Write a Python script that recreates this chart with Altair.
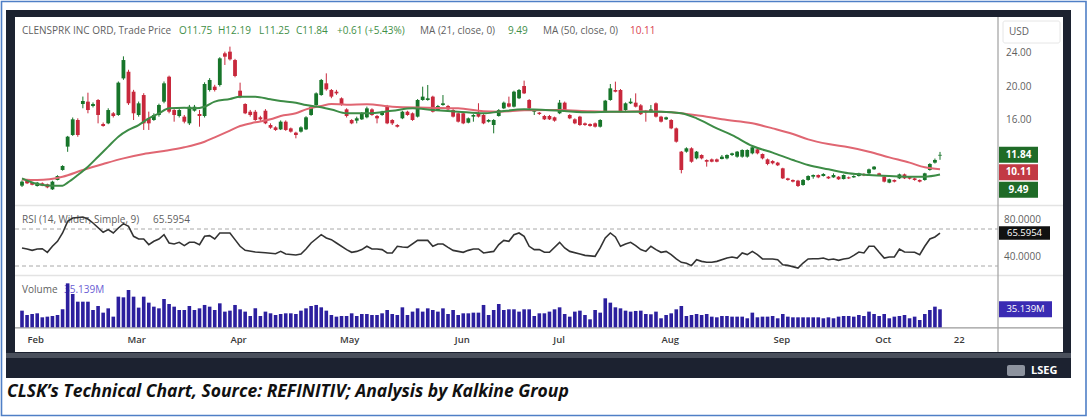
import altair as alt
import pandas as pd

# ---------------- data: CleanSpark (CLSK) daily sessions ----------------
open_ = [8.16, 8.72, 8.52, 8.12, 8.44, 8.32, 7.72, 8.84, 10.03, 12.82,
         14.21, 16.00, 17.91, 18.19, 17.67, 18.39, 15.52, 15.60, 16.80, 16.60,
         20.97, 21.77, 19.38, 16.60, 18.98, 16.20, 16.00, 16.60, 18.19, 21.17,
         17.19, 16.48, 16.40, 15.60, 17.11, 16.72, 16.48, 19.58, 19.98, 20.18,
         23.96, 24.16, 23.16, 19.50, 17.91, 16.99, 16.99, 16.32, 17.11, 15.40,
         15.12, 14.88, 15.80, 15.00, 14.49, 14.61, 14.88, 16.60, 17.79, 18.98,
         20.38, 19.58, 19.38, 18.59, 17.27, 16.00, 15.92, 16.08, 16.32, 17.27,
         16.48, 16.60, 17.59, 16.00, 15.40, 16.20, 16.99, 16.80, 16.40, 18.39,
         18.39, 18.79, 17.19, 17.79, 17.67, 17.19, 16.80, 16.80, 15.68, 16.40,
         16.80, 16.60, 15.80, 15.40, 16.48, 17.39, 17.99, 17.59, 18.59, 20.06,
         18.39, 16.99, 16.88, 16.48, 16.48, 16.32, 16.80, 18.07, 16.60, 16.08,
         16.40, 15.60, 15.52, 15.60, 15.20, 16.99, 18.39, 19.58, 19.58, 17.19,
         17.99, 18.07, 17.75, 17.10, 16.99, 17.99, 16.40, 16.08, 16.00, 15.00,
         12.22, 12.22, 12.62, 11.42, 11.82, 11.22, 11.30, 11.30, 11.34, 11.42,
         11.82, 11.62, 11.62, 11.62, 12.02, 12.50, 11.94, 11.30, 11.10, 10.91,
         10.23, 9.03, 8.84, 8.76, 8.24, 8.84, 9.23, 9.43, 9.31, 9.23,
         9.15, 9.23, 8.95, 9.15, 9.15, 9.31, 9.55, 9.63, 10.11, 9.63,
         9.23, 8.52, 8.84, 9.03, 9.51, 9.23, 9.03, 8.84, 8.84, 10.03,
         10.91, 11.75]
high_ = [8.80, 8.85, 8.60, 8.60, 8.55, 8.40, 8.75, 9.40, 10.60, 14.10,
         16.30, 16.20, 18.80, 19.26, 18.10, 18.50, 15.70, 17.40, 16.95, 20.60,
         23.60, 22.00, 19.60, 18.20, 19.20, 17.00, 16.80, 17.95, 20.60, 21.30,
         17.30, 17.40, 16.60, 17.80, 17.80, 17.20, 20.50, 21.00, 20.20, 23.50,
         24.16, 24.76, 23.30, 20.46, 18.00, 17.20, 17.20, 16.50, 17.30, 15.60,
         15.25, 15.95, 15.95, 15.10, 14.60, 15.25, 16.45, 17.70, 19.30, 20.90,
         21.57, 19.70, 19.60, 18.70, 17.40, 16.10, 16.40, 16.95, 17.60, 17.40,
         16.60, 17.10, 17.80, 16.10, 15.50, 17.10, 17.10, 16.90, 18.50, 19.98,
         20.18, 18.90, 17.80, 18.98, 17.80, 17.30, 16.90, 16.90, 16.30, 16.70,
         18.00, 16.70, 16.10, 16.10, 17.30, 18.20, 18.79, 19.50, 19.70, 20.70,
         18.50, 17.30, 16.95, 16.60, 16.60, 16.40, 18.39, 18.20, 16.70, 16.20,
         16.50, 15.70, 15.60, 15.70, 16.10, 18.40, 20.30, 20.58, 19.70, 18.10,
         18.59, 19.18, 17.90, 17.20, 17.79, 18.10, 16.50, 16.40, 16.10, 15.10,
         12.30, 12.74, 12.74, 12.30, 11.90, 11.30, 11.40, 11.40, 11.82, 11.90,
         12.10, 12.30, 12.50, 12.50, 12.90, 12.60, 12.00, 11.40, 11.20, 11.00,
         10.30, 9.10, 8.90, 8.85, 8.95, 9.40, 9.50, 9.50, 9.65, 9.30,
         9.63, 9.30, 9.50, 9.25, 9.40, 9.70, 9.65, 10.20, 10.50, 9.70,
         9.30, 9.00, 8.90, 9.60, 9.60, 9.30, 9.10, 8.90, 9.70, 10.85,
         11.40, 12.19]
low_ = [8.00, 8.35, 8.20, 8.05, 8.10, 7.85, 7.65, 8.80, 9.95, 12.20,
        14.10, 14.00, 17.40, 16.80, 17.50, 15.60, 15.20, 15.50, 16.30, 16.50,
        20.80, 17.80, 16.00, 16.40, 14.81, 14.81, 15.90, 16.40, 18.00, 16.80,
        15.80, 16.30, 15.60, 15.40, 17.00, 15.20, 16.30, 19.40, 19.40, 20.00,
        22.57, 23.10, 21.10, 18.60, 16.70, 16.40, 15.90, 15.90, 15.50, 14.95,
        14.70, 14.80, 14.70, 14.50, 13.81, 14.50, 14.80, 16.50, 17.70, 18.90,
        19.50, 18.60, 19.00, 17.70, 16.30, 15.50, 15.60, 16.00, 16.20, 16.50,
        15.60, 16.50, 15.50, 15.40, 15.10, 16.10, 16.50, 15.90, 16.30, 18.30,
        18.30, 16.90, 17.10, 17.70, 17.20, 16.30, 15.70, 15.50, 15.60, 15.80,
        16.30, 15.50, 15.70, 14.41, 16.40, 17.30, 17.50, 17.50, 18.50, 19.10,
        17.30, 16.60, 16.60, 16.00, 16.00, 15.80, 16.70, 17.10, 16.10, 15.50,
        15.30, 15.30, 15.20, 15.10, 15.10, 16.90, 18.30, 19.30, 16.90, 17.10,
        17.90, 17.50, 16.60, 15.80, 16.90, 16.30, 15.70, 16.00, 14.90, 13.30,
        9.63, 12.10, 10.90, 11.30, 11.30, 10.43, 10.95, 10.95, 11.30, 11.30,
        11.70, 11.50, 11.50, 11.50, 11.90, 11.90, 11.30, 10.60, 10.70, 10.50,
        8.95, 8.75, 8.55, 8.00, 8.15, 8.75, 8.99, 9.05, 9.25, 8.95,
        9.10, 8.85, 8.90, 8.95, 9.10, 9.25, 9.30, 9.55, 10.05, 9.35,
        8.55, 8.45, 8.55, 8.95, 8.95, 8.90, 8.75, 8.55, 8.75, 9.95,
        10.80, 11.25]
close_ = [8.64, 8.44, 8.28, 8.52, 8.16, 7.96, 8.64, 9.31, 10.51, 14.01,
          16.08, 14.21, 18.27, 17.19, 17.91, 16.60, 15.28, 17.19, 16.48, 20.46,
          23.16, 17.99, 16.80, 17.99, 15.60, 15.60, 16.60, 17.79, 20.38, 16.99,
          16.60, 17.19, 15.80, 17.59, 17.59, 16.48, 20.30, 20.78, 19.58, 23.36,
          23.56, 23.24, 21.25, 18.71, 16.80, 16.60, 16.00, 16.08, 15.60, 15.08,
          14.81, 15.80, 14.81, 14.61, 14.21, 15.12, 16.32, 17.59, 19.18, 20.78,
          19.66, 18.79, 19.18, 17.79, 16.48, 15.60, 16.20, 16.80, 17.39, 16.60,
          16.20, 16.99, 15.60, 15.60, 15.20, 16.99, 16.60, 16.00, 18.39, 18.79,
          18.59, 16.99, 17.67, 17.99, 17.27, 16.40, 15.80, 15.60, 16.20, 16.60,
          16.40, 15.60, 16.00, 16.00, 17.19, 18.07, 17.59, 19.38, 19.58, 19.18,
          17.39, 17.19, 16.72, 16.08, 16.08, 15.92, 18.07, 17.19, 16.20, 15.60,
          15.40, 15.40, 15.28, 15.20, 16.00, 18.31, 19.78, 19.38, 16.99, 17.99,
          18.19, 17.59, 16.70, 16.90, 17.27, 16.40, 15.80, 16.32, 15.00, 13.41,
          10.03, 12.62, 11.02, 12.22, 11.42, 11.02, 11.02, 11.02, 11.62, 11.82,
          12.02, 12.22, 12.42, 12.42, 12.74, 12.02, 11.42, 10.75, 10.83, 10.59,
          9.03, 8.84, 8.64, 8.12, 8.84, 9.31, 9.43, 9.15, 9.55, 9.03,
          9.43, 8.92, 9.43, 9.03, 9.31, 9.63, 9.39, 10.11, 10.43, 9.43,
          8.64, 8.92, 8.64, 9.51, 9.03, 8.99, 8.84, 8.64, 9.63, 10.75,
          11.23, 11.84]

# daily volume, millions of shares
volume_m = [32.5, 24, 26, 27.3, 19.5, 20.8, 22.1, 24, 35.1, 85.8,
            65, 50, 50, 50, 33.8, 41.6, 28.6, 37, 20.8, 59.8,
            58.5, 72.8, 59.8, 38.4, 59.8, 48.1, 40.3, 37, 55.3, 45.5,
            40.3, 33.8, 33.8, 41.6, 33.8, 37, 43.6, 40.3, 33.8, 46.8,
            30.6, 32.5, 43.6, 35.1, 30.6, 22.1, 37, 22.1, 30.6, 27.3,
            24, 26, 27.3, 27.3, 26, 32.5, 37, 41.6, 43.6, 39,
            32.5, 24, 20.8, 22.1, 22.1, 27.3, 22.1, 26, 26, 24,
            24, 27.3, 33.8, 26, 24, 39, 24, 30.6, 37, 30.6,
            37, 33.8, 30.6, 37, 26, 33.8, 24, 27.3, 27.3, 28.6,
            28.6, 43.6, 24, 33.8, 45.5, 33.8, 35.1, 35.1, 30.6, 35.1,
            35.1, 22.1, 27.3, 27.3, 30.6, 35.1, 39, 26, 20.8, 30.6,
            32.5, 24, 15.6, 33.8, 28.6, 56.6, 48.1, 39, 37, 32.5,
            30.6, 31.9, 32.5, 26, 25.4, 30.6, 17.6, 24, 27.3, 35.1,
            41.6, 22.1, 24, 26, 24, 26, 20.8, 19.5, 22.1, 22.1,
            20.8, 20.8, 20.8, 17.6, 28.6, 19.5, 20.8, 20.8, 22.1, 17.6,
            26, 20.8, 19.5, 19.5, 19.5, 19.5, 19.5, 19.5, 17.6, 19.5,
            17.6, 20.8, 22.1, 22.1, 20.8, 24, 22.1, 30.6, 26, 22.1,
            26, 17.6, 20.8, 22.1, 24, 17.6, 20.8, 14.3, 26, 33.8,
            40.3, 35.139]

# moving averages (session index, value)
ma21_idx = [0, 3, 6, 8, 9, 11, 13, 15, 17, 19, 21, 23, 25, 27, 29, 32, 34, 36,
            38, 41, 43, 46, 49, 51, 54, 56, 59, 61, 64, 68, 73, 77, 81, 86, 91,
            94, 99, 106, 112, 116, 122, 126, 130, 133, 137, 140, 144, 148, 152,
            155, 159, 163, 167, 171, 175, 178, 181]
ma21_val = [9.03, 8.36, 8.16, 8.16, 8.52, 9.43, 10.43, 11.62, 12.82, 14.01,
            14.81, 15.40, 16.20, 16.80, 17.39, 17.47, 17.39, 17.59, 18.19,
            18.51, 18.79, 18.79, 18.47, 18.27, 18.07, 17.79, 17.51, 17.25,
            16.80, 16.80, 17.10, 17.39, 17.19, 16.99, 16.80, 16.99, 17.27,
            17.10, 16.92, 16.99, 17.00, 16.99, 16.80, 16.20, 15.00, 14.20,
            12.90, 12.10, 11.22, 10.63, 10.11, 9.63, 9.43, 9.31, 9.23, 9.23,
            9.49]
ma50_idx = [0, 3, 8, 12, 16, 20, 24, 28, 32, 36, 38, 41, 43, 46, 49, 51, 54,
            56, 59, 61, 64, 68, 73, 80, 86, 91, 94, 99, 106, 112, 118, 122,
            128, 131, 135, 138, 144, 148, 152, 155, 159, 163, 167, 171, 175,
            178, 181]
ma50_val = [8.91, 8.84, 9.23, 10.03, 10.75, 11.42, 11.94, 12.30, 12.74,
            13.41, 13.93, 14.73, 15.28, 15.72, 16.08, 16.48, 16.80, 17.27,
            17.67, 17.91, 17.83, 17.87, 17.59, 17.47, 17.39, 17.05, 17.00,
            17.15, 17.19, 17.05, 16.99, 17.05, 16.92, 16.72, 16.40, 16.08,
            15.60, 15.00, 14.33, 13.69, 13.13, 12.74, 12.22, 11.54, 10.91,
            10.35, 10.11]

# RSI (14, Wilder) readings
rsi_idx = [0, 1, 2, 3, 4, 5, 6, 7, 8, 9, 10, 12, 13, 14, 16, 17, 18, 19, 20,
           21, 22, 23, 24, 25, 26, 27, 28, 29, 30, 31, 32, 33, 34, 35, 36, 37,
           38, 39, 40, 41, 42, 43, 44, 46, 48, 50, 51, 52, 54, 55, 56, 57, 59,
           60, 61, 62, 64, 65, 66, 67, 68, 69, 70, 71, 72, 73, 74, 75, 76, 78,
           79, 80, 81, 82, 83, 84, 85, 87, 88, 89, 90, 91, 93, 94, 95, 96, 97,
           98, 99, 100, 101, 102, 103, 104, 106, 107, 108, 110, 111, 113, 114,
           115, 116, 117, 118, 119, 120, 121, 122, 123, 124, 125, 126, 127,
           128, 129, 130, 131, 132, 133, 134, 135, 136, 137, 139, 140, 141,
           142, 143, 144, 145, 146, 148, 149, 150, 151, 153, 154, 155, 156,
           157, 158, 159, 160, 161, 162, 163, 164, 165, 166, 167, 168, 169,
           170, 171, 172, 173, 174, 176, 177, 178, 179, 180, 181]
rsi_val = [49.5, 48.4, 46.9, 48.4, 48.7, 44.8, 51.3, 56.7, 65.7, 78.3, 81.9,
           83.0, 80.8, 76.5, 66.4, 69.3, 65.7, 71.1, 75.8, 72.9, 62.1, 59.2,
           59.2, 53.1, 56.7, 59.2, 63.9, 54.9, 53.8, 55.6, 52.0, 55.6, 55.6,
           53.1, 62.1, 62.8, 59.2, 65.7, 65.7, 65.7, 58.5, 51.3, 46.9, 45.1,
           44.4, 43.3, 45.8, 43.0, 41.9, 43.0, 48.4, 54.9, 63.9, 60.3, 58.5,
           54.9, 47.7, 44.8, 45.8, 47.7, 51.3, 48.4, 48.4, 47.7, 44.1, 44.1,
           51.3, 50.5, 50.2, 57.7, 57.7, 57.7, 51.3, 53.8, 53.8, 50.2, 46.9,
           44.8, 46.9, 48.4, 48.4, 44.1, 45.8, 53.1, 57.7, 56.7, 63.9, 65.7,
           62.1, 51.3, 47.7, 47.7, 44.8, 44.8, 55.6, 49.5, 45.8, 43.0, 41.5,
           40.5, 49.5, 60.3, 65.7, 61.4, 51.3, 53.8, 55.6, 52.0, 47.7, 45.8,
           51.3, 47.7, 44.8, 45.8, 42.3, 37.6, 34.0, 33.0, 30.4, 36.8, 35.0,
           34.0, 34.0, 35.0, 38.6, 39.7, 38.6, 44.1, 42.3, 45.8, 42.3, 37.6,
           37.6, 36.8, 31.4, 30.7, 27.8, 33.2, 37.6, 37.9, 37.9, 38.6, 36.8,
           37.6, 36.1, 37.6, 38.3, 41.5, 45.1, 44.1, 51.3, 51.3, 44.8, 38.6,
           39.7, 39.7, 48.4, 45.1, 44.8, 42.3, 51.3, 59.2, 61.4, 65.5954]

month_names = ["Feb", "Mar", "Apr", "May", "Jun", "Jul", "Aug", "Sep", "Oct", "22"]
month_pos = [2.7, 22.6, 42.7, 64.6, 86.8, 105.9, 127.8, 149.8, 169.8, 184.8]

price_ticks = [24, 20, 16]
rsi_ticks = [80, 40]
rsi_bands = [70, 30]

# ---------------- layout & style ----------------
FONT = "Open Sans"
GREEN = "#17752a"
RED = "#c8283c"
MA21_C = "#3d8c46"
MA50_C = "#e06672"
VOL_C = "#2c1f9e"
GREY_TXT = "#5f5f5f"

# panel geometry (pixels)
X_FIRST, X_LAST = 17, 945
PX_USD, Y_USD24 = 8.375, 53.0
PX_RSI, Y_RSI70 = 0.925, 229.0
Y_VOL0, PX_VOLM = 327.3, 0.5123

n = len(close_)
X = alt.Scale(domain=[0, n - 1], range=[X_FIRST, X_LAST], nice=False, zero=False)
P = alt.Scale(domain=[6, 28], range=[Y_USD24 + 18 * PX_USD, Y_USD24 - 4 * PX_USD],
              nice=False, zero=False)
R = alt.Scale(domain=[20, 95], range=[Y_RSI70 + 50 * PX_RSI, Y_RSI70 - 25 * PX_RSI],
              nice=False, zero=False)
V = alt.Scale(domain=[0, 100], range=[Y_VOL0, Y_VOL0 - 100 * PX_VOLM],
              nice=False, zero=False)

one = pd.DataFrame({"k": [0]})


def rect(x, x2, y, y2, fill, stroke=None, sw=0, r=0):
    kw = dict(fill=fill, cornerRadius=r)
    if stroke:
        kw.update(stroke=stroke, strokeWidth=sw)
    return alt.Chart(one).mark_rect(**kw).encode(
        x=alt.value(x), x2=alt.value(x2), y=alt.value(y), y2=alt.value(y2))


def hline(x, x2, y, color, w=1, dash=None):
    kw = dict(color=color, strokeWidth=w)
    if dash:
        kw["strokeDash"] = dash
    return alt.Chart(one).mark_rule(**kw).encode(
        x=alt.value(x), x2=alt.value(x2), y=alt.value(y))


def vline(x, y, y2, color, w=1):
    return alt.Chart(one).mark_rule(color=color, strokeWidth=w).encode(
        x=alt.value(x), y=alt.value(y), y2=alt.value(y2))


def txt(s, x, y, color=GREY_TXT, size=10, weight="normal", align="left",
        font=FONT, style="normal"):
    return alt.Chart(one).mark_text(
        align=align, baseline="middle", font=font, fontSize=size,
        fontWeight=weight, fontStyle=style, color=color
    ).encode(x=alt.value(x), y=alt.value(y), text=alt.value(s))


# ---------------- tables ----------------
candles = pd.DataFrame({"i": range(n), "open": open_, "high": high_,
                        "low": low_, "close": close_})
candles["dir"] = ["up" if c >= o else "down" for o, c in zip(open_, close_)]
candles["lo"] = candles[["open", "close"]].min(axis=1)
candles["hi"] = candles[["open", "close"]].max(axis=1)

vol = pd.DataFrame({"i": range(n), "vol": volume_m, "base": 0.0})
ma21 = pd.DataFrame({"i": ma21_idx, "v": ma21_val})
ma50 = pd.DataFrame({"i": ma50_idx, "v": ma50_val})
rsi = pd.DataFrame({"i": rsi_idx, "v": rsi_val})
months = pd.DataFrame({"pos": month_pos, "name": month_names})

# price tags on the right scale, stacked so they do not overlap
tag_vals = [close_[-1], ma50_val[-1], ma21_val[-1]]
tag_fill = ["#1f6b27", "#c23a44", "#1f6b27"]
half = 8.0 / PX_USD
centres = []
for v in tag_vals:
    centres.append(v if not centres else min(v, centres[-1] - 2.1 * half * 1.04))
tags = pd.DataFrame({"c": centres, "top": [c + half for c in centres],
                     "bot": [c - half for c in centres],
                     "lab": [f"{v:.2f}" for v in tag_vals], "fill": tag_fill})

rsi_last = rsi_val[-1]
vol_last = volume_m[-1]
rsi_tag = pd.DataFrame({"c": [rsi_last], "top": [rsi_last + 6.8 / PX_RSI],
                        "bot": [rsi_last - 6.8 / PX_RSI], "lab": [f"{rsi_last:.4f}"]})
vol_tag = pd.DataFrame({"c": [vol_last], "top": [vol_last + 8 / PX_VOLM],
                        "bot": [vol_last - 8 / PX_VOLM], "lab": [f"{vol_last:.3f}M"]})

xi = alt.X("i:Q", scale=X, axis=None)
dir_color = alt.Color("dir:N", scale=alt.Scale(domain=["up", "down"], range=[GREEN, RED]),
                      legend=None)

layers = []

# frame
layers += [
    rect(1.5, 1086, 1.5, 415.5, "white", stroke="#4f7fc6", sw=1.6),
    rect(6, 1071, 10, 378, "#1c2230"),
    rect(6, 1071, 353, 358, "#4a505c"),
    rect(15, 1063, 17, 352, "white"),
]

# panel separators and axes lines
layers += [
    hline(15, 1063, 205.5, "#e3e3e3", 1.6),
    hline(15, 1063, 275.5, "#e3e3e3", 1.6),
    hline(15, 1063, 327.8, "#9a9a9a", 1.2),
    vline(998, 17, 352, "#a0a0a0", 1.2),
]

# RSI guide bands
layers.append(
    alt.Chart(pd.DataFrame({"v": rsi_bands})).mark_rule(
        color="#a8a8a8", strokeWidth=1, strokeDash=[4, 3]
    ).encode(x=alt.value(15), x2=alt.value(998), y=alt.Y("v:Q", scale=R, axis=None))
)

# headers
layers += [
    txt("CLENSPRK INC ORD, Trade Price", 22, 31),
    txt("O11.75", 179, 31, "#3f8f47"),
    txt("H12.19", 218, 31, "#3f8f47"),
    txt("L11.25", 259, 31, "#3f8f47"),
    txt("C11.84", 296, 31, "#3f8f47"),
    txt("+0.61 (+5.43%)", 337, 31, "#3f8f47"),
    txt("MA (21, close, 0)", 420, 31),
    txt("9.49", 508, 31, "#3f8f47"),
    txt("MA (50, close, 0)", 543, 31),
    txt("10.11", 630, 31, "#d9414f"),
    txt("RSI (14, Wilder, Simple, 9)", 22, 220),
    txt("65.5954", 153, 220),
    txt("Volume", 22, 290),
    txt("35.139M", 64, 290, "#6a5ed4"),
]

# candles
layers += [
    alt.Chart(candles).mark_rule(strokeWidth=1).encode(
        x=xi, y=alt.Y("low:Q", scale=P, axis=None), y2="high:Q", color=dir_color),
    alt.Chart(candles).mark_bar(size=3.8).encode(
        x=xi, y=alt.Y("lo:Q", scale=P, axis=None), y2="hi:Q", color=dir_color),
]

# moving averages
layers += [
    alt.Chart(ma50).mark_line(color=MA50_C, strokeWidth=2, interpolate="monotone").encode(
        x=xi, y=alt.Y("v:Q", scale=P, axis=None)),
    alt.Chart(ma21).mark_line(color=MA21_C, strokeWidth=2, interpolate="monotone").encode(
        x=xi, y=alt.Y("v:Q", scale=P, axis=None)),
]

# RSI line
layers.append(
    alt.Chart(rsi).mark_line(color="#333333", strokeWidth=1.6).encode(
        x=xi, y=alt.Y("v:Q", scale=R, axis=None))
)

# volume bars
layers.append(
    alt.Chart(vol).mark_bar(size=3.6, color=VOL_C).encode(
        x=xi, y=alt.Y("vol:Q", scale=V, axis=None), y2="base:Q")
)

# x-axis month labels
layers.append(
    alt.Chart(months).mark_text(font=FONT, fontSize=9.5, fontWeight=600,
                                color="#3a3a3a", baseline="middle").encode(
        x=alt.X("pos:Q", scale=X, axis=None), y=alt.value(340), text="name:N")
)

# right-hand scale labels
layers += [
    rect(1003, 1060, 21, 43, "white", stroke="#e6e6e6", sw=1, r=2),
    txt("USD", 1009, 32),
    alt.Chart(pd.DataFrame({"v": price_ticks, "lab": [f"{t:.2f}" for t in price_ticks]}))
    .mark_text(align="left", baseline="middle", font=FONT, fontSize=10, color=GREY_TXT)
    .encode(x=alt.value(1006), y=alt.Y("v:Q", scale=P, axis=None), text="lab:N"),
    alt.Chart(pd.DataFrame({"v": rsi_ticks, "lab": [f"{t:.4f}" for t in rsi_ticks]}))
    .mark_text(align="left", baseline="middle", font=FONT, fontSize=10, color=GREY_TXT)
    .encode(x=alt.value(1004), y=alt.Y("v:Q", scale=R, axis=None), text="lab:N"),
]

# value tags
layers += [
    alt.Chart(tags).mark_rect().encode(
        x=alt.value(999), x2=alt.value(1038),
        y=alt.Y("top:Q", scale=P, axis=None), y2="bot:Q",
        fill=alt.Fill("fill:N", scale=None)),
    alt.Chart(tags).mark_text(font=FONT, fontSize=10, fontWeight="bold", color="white",
                              baseline="middle").encode(
        x=alt.value(1018.5), y=alt.Y("c:Q", scale=P, axis=None), text="lab:N"),
    alt.Chart(rsi_tag).mark_rect(fill="#111111").encode(
        x=alt.value(999), x2=alt.value(1050),
        y=alt.Y("top:Q", scale=R, axis=None), y2="bot:Q"),
    alt.Chart(rsi_tag).mark_text(font=FONT, fontSize=9.5, color="white",
                                 baseline="middle").encode(
        x=alt.value(1024.5), y=alt.Y("c:Q", scale=R, axis=None), text="lab:N"),
    alt.Chart(vol_tag).mark_rect(fill="#3a2bb3").encode(
        x=alt.value(999), x2=alt.value(1052),
        y=alt.Y("top:Q", scale=V, axis=None), y2="bot:Q"),
    alt.Chart(vol_tag).mark_text(font=FONT, fontSize=9.5, color="white",
                                 baseline="middle").encode(
        x=alt.value(1025.5), y=alt.Y("c:Q", scale=V, axis=None), text="lab:N"),
]

# footer logo and caption
layers += [
    rect(1007, 1025, 365, 376, "#8d939e", r=2),
    txt("LSEG", 1031, 370.5, "white", size=11, weight="bold"),
    txt("CLSK\u2019s Technical Chart, Source: REFINITIV; Analysis by Kalkine Group",
        7, 392, "#111111", size=17.5, weight="bold", font="Open Sans", style="italic"),
]

chart = alt.layer(*layers).resolve_scale(y="independent").properties(
    width=1088, height=417, padding=0,
    autosize=alt.AutoSizeParams(type="none"), background="white"
).configure_view(stroke=None)

chart.save("out.html", embed_options={"renderer": "svg", "actions": False})
